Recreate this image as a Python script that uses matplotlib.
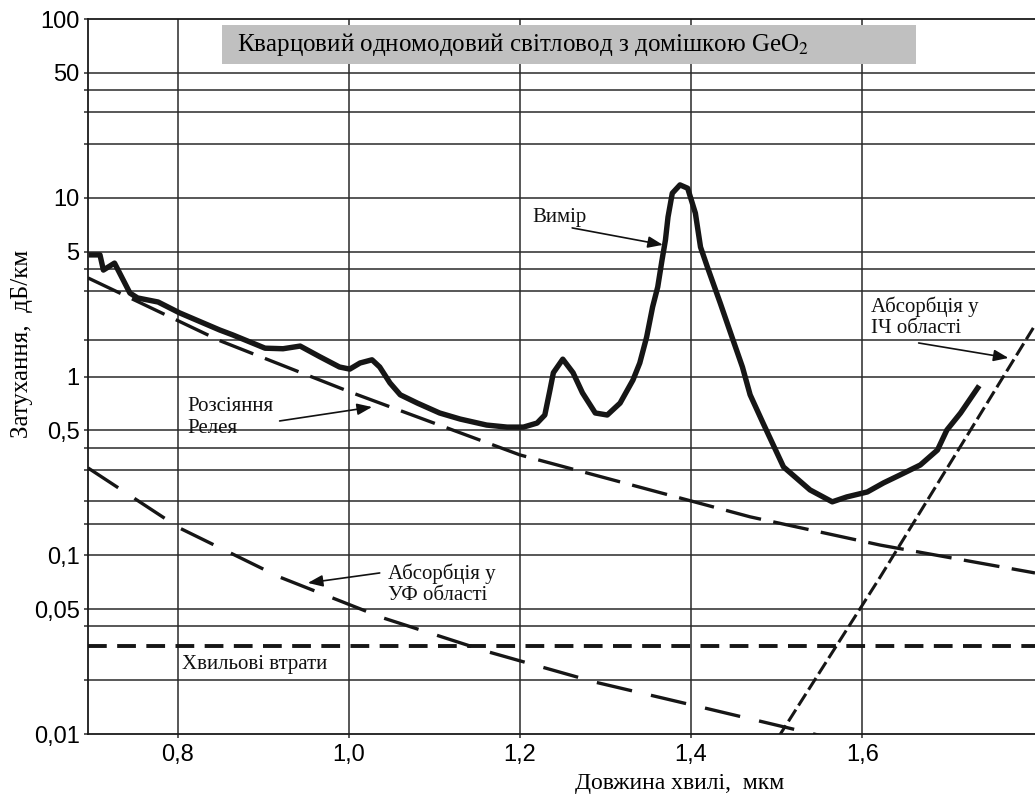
import matplotlib
matplotlib.use("Agg")
import matplotlib.pyplot as plt
from matplotlib.patches import Rectangle
from matplotlib.ticker import FixedLocator, NullFormatter

plt.rcParams['lines.scale_dashes'] = False
plt.rcParams['mathtext.fontset'] = 'stix'
SERIF = ['Liberation Serif', 'DejaVu Serif']
SANS = ['Liberation Sans', 'DejaVu Sans']

# measured attenuation curve, dB/km vs wavelength, um
meas_x = [0.699, 0.709, 0.713, 0.726, 0.744, 0.753, 0.777, 0.802, 0.849, 0.864,
          0.902, 0.923, 0.943, 0.966, 0.989, 1.001, 1.013, 1.027, 1.036, 1.048,
          1.060, 1.080, 1.106, 1.130, 1.161, 1.185, 1.204, 1.220, 1.229, 1.235,
          1.239, 1.250, 1.262, 1.273, 1.288, 1.302, 1.317, 1.332, 1.340, 1.348,
          1.355, 1.361, 1.366, 1.370, 1.373, 1.378, 1.387, 1.396, 1.405, 1.411,
          1.419, 1.434, 1.449, 1.460, 1.469, 1.484, 1.508, 1.539, 1.565, 1.582,
          1.606, 1.625, 1.644, 1.668, 1.688, 1.699, 1.715, 1.735]
meas_y = [4.79, 4.79, 3.94, 4.31, 2.93, 2.75, 2.61, 2.27, 1.82, 1.71,
          1.44, 1.43, 1.48, 1.29, 1.13, 1.10, 1.19, 1.24, 1.13, 0.92,
          0.79, 0.71, 0.625, 0.578, 0.535, 0.521, 0.521, 0.549, 0.609, 0.84,
          1.05, 1.25, 1.05, 0.81, 0.625, 0.609, 0.71, 0.955, 1.19, 1.66,
          2.45, 3.17, 4.48, 5.80, 7.80, 10.6, 11.8, 11.3, 8.2, 5.3,
          4.10, 2.58, 1.60, 1.13, 0.79, 0.55, 0.312, 0.232, 0.199, 0.212,
          0.226, 0.254, 0.281, 0.320, 0.388, 0.502, 0.625, 0.863]

# Rayleigh scattering
ray_x = [0.695, 0.85, 1.004, 1.200, 1.469, 1.621, 1.802]
ray_y = [3.56, 1.58, 0.81, 0.364, 0.164, 0.114, 0.0796]

# UV absorption
uv_x = [0.695, 0.802, 0.919, 1.040, 1.163, 1.288, 1.411, 1.553]
uv_y = [0.308, 0.142, 0.0755, 0.0446, 0.0288, 0.0195, 0.01416, 0.00975]

# IR absorption
ir_x = [1.502, 1.621, 1.800]
ir_y = [0.0096, 0.0755, 1.87]

# waveguide losses
wg_level = 0.031

y_major = [0.01, 0.05, 0.1, 0.5, 1, 5, 10, 50, 100]
y_labels = ['0,01', '0,05', '0,1', '0,5', '1', '5', '10', '50', '100']
y_minor = [0.02, 0.04, 0.15, 0.2, 0.3, 0.4, 1.6, 3, 4, 20, 30, 40]
x_major = [0.8, 1.0, 1.2, 1.4, 1.6]
x_labels = ['0,8', '1,0', '1,2', '1,4', '1,6']

W, H = 1035, 796
fig = plt.figure(figsize=(W / 100, H / 100), dpi=100)
ax = fig.add_axes([88 / W, 1 - 734 / H, 1 - 88 / W, (734 - 19) / H])
ax.set_yscale('log')
ax.set_xlim(0.695, 1.802)
ax.set_ylim(0.01, 100)

grid_kw = dict(color='#2a2a2a', lw=1.1, zorder=1)
for v in y_major[1:-1] + y_minor:
    ax.axhline(v, **grid_kw)
for v in x_major:
    ax.axvline(v, **grid_kw)

ax.yaxis.set_major_locator(FixedLocator(y_major))
ax.set_yticklabels(y_labels)
ax.yaxis.set_minor_locator(FixedLocator(y_minor))
ax.yaxis.set_minor_formatter(NullFormatter())
ax.set_xticks(x_major)
ax.set_xticklabels(x_labels)
ax.tick_params(axis='both', which='both', direction='out', length=3, width=1.1,
               color='#2a2a2a', labelsize=17, pad=4)
for lab in ax.get_xticklabels() + ax.get_yticklabels():
    lab.set_family(SANS)
ax.tick_params(axis='y', pad=3)

for s in ['left', 'top', 'bottom']:
    ax.spines[s].set_linewidth(1.3)
    ax.spines[s].set_color('#1a1a1a')
ax.spines['right'].set_visible(False)

ink = '#161616'
ax.plot(meas_x, meas_y, color=ink, lw=3.9, solid_joinstyle='round', zorder=5)
ax.plot(ray_x, ray_y, color=ink, lw=2.4, dashes=(26, 9), zorder=4)
ax.plot(uv_x, uv_y, color=ink, lw=2.4, dashes=(26, 14), zorder=4)
ax.plot(ir_x, ir_y, color=ink, lw=2.2, dashes=(10, 3.5), zorder=4)
ax.axhline(wg_level, color=ink, lw=2.8, dashes=(13.5, 7.5), zorder=4)

ax.set_xlabel('Довжина хвилі,  мкм', family=SERIF, fontsize=17)
ax.xaxis.set_label_coords((680 - 88) / (W - 88), -0.055)
ax.set_ylabel('Затухання,  дБ/км', family=SERIF, fontsize=18)
ax.yaxis.set_label_coords(-0.058, 0.545)

# title box
fig.add_artist(Rectangle((222 / W, 1 - 64 / H), (916 - 222) / W, 39 / H,
                         transform=fig.transFigure, fc='#c0c0c0', ec='none', zorder=9))
fig.text(237 / W, 1 - 45 / H, 'Кварцовий одномодовий світловод з домішкою GeO$_2$',
         family=SERIF, fontsize=18, va='center', ha='left', zorder=10)

txt_kw = dict(family=SERIF, fontsize=15, color='#111111', zorder=7)
arr_kw = dict(arrowstyle='-|>,head_length=0.9,head_width=0.35', color='#111111', lw=1.2,
              shrinkA=0, shrinkB=0)

ax.text(1.215, 7.8, 'Вимір', ha='left', va='center', **txt_kw)
ax.annotate('', xy=(1.367, 5.45), xytext=(1.261, 6.78), arrowprops=arr_kw, zorder=7)

ax.text(0.811, 0.59, 'Розсіяння\nРелея', ha='left', va='center', linespacing=1.15, **txt_kw)
ax.annotate('', xy=(1.027, 0.675), xytext=(0.919, 0.564), arrowprops=arr_kw, zorder=7)

ax.text(1.046, 0.069, 'Абсорбція у\nУФ області', ha='left', va='center', linespacing=1.15, **txt_kw)
ax.annotate('', xy=(0.952, 0.070), xytext=(1.036, 0.0796), arrowprops=arr_kw, zorder=7)

ax.text(1.610, 2.15, 'Абсорбція у\nІЧ області', ha='left', va='center', linespacing=1.15, **txt_kw)
ax.annotate('', xy=(1.771, 1.27), xytext=(1.666, 1.54), arrowprops=arr_kw, zorder=7)

ax.text(0.805, 0.0245, 'Хвильові втрати', ha='left', va='center', **txt_kw)

fig.savefig('out.png', dpi=100)
